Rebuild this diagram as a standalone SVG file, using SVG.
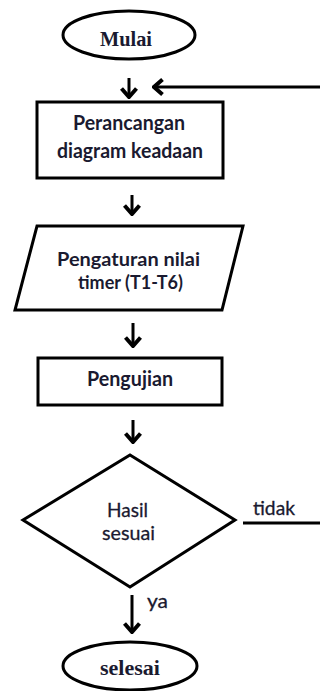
<svg xmlns="http://www.w3.org/2000/svg" width="320" height="691" viewBox="0 0 320 691">
<style>
.shape{fill:#fff;stroke:#000;stroke-width:3}
.edge{fill:none;stroke:#000;stroke-width:3}
.serif{font-family:"Liberation Serif","Times New Roman",serif;font-weight:bold;font-size:21px;fill:#1a1a30;text-anchor:middle}
.bold{font-family:Lato,"Open Sans","Liberation Sans",sans-serif;font-weight:bold;font-size:20.5px;fill:#1a1a30;text-anchor:middle}
.bold.tight{font-size:19px}
.reg{font-family:Lato,"Open Sans","Liberation Sans",sans-serif;font-size:20px;fill:#1a1a30;stroke:#1a1a30;stroke-width:0.3}
</style>
<defs>
<marker id="arr" viewBox="-12 -9 14 18" refX="0" refY="0" markerWidth="14" markerHeight="18" markerUnits="userSpaceOnUse" orient="auto">
<path d="M-8.5,-7.5 L0,0 L-8.5,7.5" fill="none" stroke="#000" stroke-width="4"/>
</marker>
</defs>
<rect width="320" height="691" fill="#fff"/>
<g id="connectors">
<line class="edge" x1="129" y1="78" x2="129" y2="97" marker-end="url(#arr)"/>
<line class="edge" x1="320" y1="87" x2="154" y2="87" marker-end="url(#arr)"/>
<line class="edge" x1="132" y1="195" x2="132" y2="214" marker-end="url(#arr)"/>
<line class="edge" x1="133" y1="323" x2="133" y2="346" marker-end="url(#arr)"/>
<line class="edge" x1="133" y1="420" x2="133" y2="442" marker-end="url(#arr)"/>
<line class="edge" x1="132" y1="595" x2="132" y2="632" marker-end="url(#arr)"/>
<line class="edge" x1="243" y1="523" x2="320" y2="523"/>
<text class="reg" x="253" y="515" textLength="42" lengthAdjust="spacingAndGlyphs">tidak</text>
<text class="reg" x="147" y="608" textLength="21" lengthAdjust="spacingAndGlyphs">ya</text>
</g>
<g id="mulai">
<ellipse class="shape" cx="129" cy="35" rx="66" ry="24"/>
<text class="serif" x="126" y="46" textLength="52" lengthAdjust="spacingAndGlyphs">Mulai</text>
</g>
<g id="perancangan">
<rect class="shape" x="37" y="102" width="186" height="76"/>
<text class="bold" x="129" y="130" textLength="112" lengthAdjust="spacingAndGlyphs">Perancangan</text>
<text class="bold" x="130" y="158" textLength="146" lengthAdjust="spacingAndGlyphs">diagram keadaan</text>
</g>
<g id="pengaturan">
<polygon class="shape" points="37,226 243,226 222,310 15,310"/>
<text class="bold tight" x="128.5" y="265.5" textLength="143" lengthAdjust="spacingAndGlyphs">Pengaturan nilai</text>
<text class="bold tight" x="130.5" y="288.5" textLength="105" lengthAdjust="spacingAndGlyphs">timer (T1-T6)</text>
</g>
<g id="pengujian">
<rect class="shape" x="38" y="358" width="184" height="47"/>
<text class="bold" x="130" y="386" textLength="86" lengthAdjust="spacingAndGlyphs">Pengujian</text>
</g>
<g id="hasil">
<polygon class="shape" points="130,455 235,520 130,587 23,520"/>
<text class="reg" x="127.5" y="517" text-anchor="middle" textLength="41" lengthAdjust="spacingAndGlyphs">Hasil</text>
<text class="reg" x="128.5" y="540" text-anchor="middle" textLength="53" lengthAdjust="spacingAndGlyphs">sesuai</text>
</g>
<g id="selesai">
<ellipse class="shape" cx="130" cy="666" rx="67" ry="24"/>
<text class="serif" x="130" y="675" textLength="60" lengthAdjust="spacingAndGlyphs">selesai</text>
</g>
</svg>
